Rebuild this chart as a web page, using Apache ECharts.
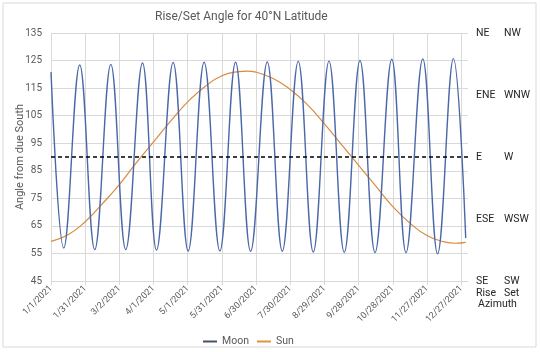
<!DOCTYPE html>
<html>
<head>
<meta charset="utf-8">
<script src="https://cdn.jsdelivr.net/npm/echarts@6/dist/echarts.min.js"></script>
<style>
  html, body { margin: 0; padding: 0; background: #fff; }
  #chart { width: 540px; height: 352px; }
</style>
</head>
<body>
<div id="chart"></div>
<script>
// days are counted from 1/1/2021
var moonDays   = [0, 11.2, 25.2, 38.4, 52.5, 65.6, 80.3, 92.6, 107.2, 120.4, 134.4, 148.2, 162, 175.2,
                  189.8, 203, 217, 230.2, 244, 257.4, 271.2, 284.4, 299.1, 311.6, 326.3, 339.3, 353.2, 364];
var moonAngles = [120.8, 57.0, 123.4, 56.4, 123.6, 56.4, 124.1, 56.2, 124.3, 55.9, 124.4, 55.9, 124.4, 55.8,
                  124.5, 55.8, 124.7, 55.5, 124.8, 55.4, 125.0, 55.3, 125.5, 55.3, 125.6, 54.9, 125.7, 60.6];

var sunDays   = [0, 15, 30, 45, 60, 75, 90, 105, 120, 135, 150, 165, 172, 180,
                 195, 210, 225, 240, 255, 270, 285, 300, 315, 330, 345, 355, 364];
var sunAngles = [59.4, 61.8, 66.5, 73, 80, 88, 95.5, 103, 110, 115.5, 119.5, 121, 121.2, 120.8,
                 118.5, 114.5, 109, 102, 94.5, 87, 79.5, 72, 66, 61.5, 59.2, 58.7, 59];

var riseLabels = ['SE', 'ESE', 'E', 'ENE', 'NE'];
var setLabels  = ['SW', 'WSW', 'W', 'WNW', 'NW'];
var dueEastWest = 90;

// y axis runs 45..135; plotted as offset from 45 so ticks start on a multiple of the interval
var yBase = 45;

function pairs(days, vals) {
    var out = [];
    for (var i = 0; i < days.length; i++) out.push([days[i], vals[i] - yBase]);
    return out;
}

function dayLabel(v) {
    if (v % 30 !== 0 || v > 360) return '';
    var d = new Date(2021, 0, 1 + v);
    return (d.getMonth() + 1) + '/' + d.getDate() + '/' + d.getFullYear();
}

var chart = echarts.init(document.getElementById('chart'));
var grey = '#595959';
var gridColor = '#d9d9d9';

var option = {
    backgroundColor: '#fff',
    textStyle: { fontFamily: 'Roboto' },
    animation: false,
    title: {
        text: 'Rise/Set Angle for 40°N Latitude',
        left: 150, top: 6,
        textStyle: { fontSize: 12, fontWeight: 'normal', color: grey }
    },
    legend: {
        data: ['Moon', 'Sun'],
        left: 198, top: 331,
        icon: 'rect', itemWidth: 14, itemHeight: 2, itemGap: 8,
        textStyle: { fontSize: 10.5, color: grey }
    },
    grid: { left: 51, right: 72, top: 33, bottom: 71 },
    xAxis: {
        type: 'value',
        min: 0, max: 366, interval: 30,
        axisLine: { show: true, lineStyle: { color: gridColor } },
        axisTick: { show: true, length: 4, lineStyle: { color: gridColor } },
        axisLabel: { rotate: 45, fontSize: 9, color: grey, margin: 6, formatter: dayLabel, showMaxLabel: false },
        splitLine: { show: true, showMaxLine: false, lineStyle: { color: gridColor } }
    },
    yAxis: [
        {
            type: 'value',
            min: 0, max: 90, interval: 10,
            name: 'Angle from due South',
            nameLocation: 'middle', nameGap: 25,
            nameMoveOverlap: false,
            nameTextStyle: { fontSize: 11, color: grey },
            axisLine: { show: false },
            axisTick: { show: false },
            axisLabel: { fontSize: 10, color: grey, margin: 9, formatter: function (v) { return v + yBase; } },
            splitLine: { lineStyle: { color: gridColor } }
        },
        {
            type: 'value',
            position: 'right',
            min: 0, max: 90, interval: 22.5,
            axisLine: { show: false },
            axisTick: { show: false },
            splitLine: { show: false },
            axisLabel: {
                margin: 8, fontSize: 10.5, color: '#262626', align: 'left',
                formatter: function (v) {
                    var i = Math.round(v / 22.5);
                    return '{a|' + riseLabels[i] + '}{b|' + setLabels[i] + '}';
                },
                rich: {
                    a: { width: 28, fontSize: 10.5, color: '#262626' },
                    b: { fontSize: 10.5, color: '#262626' }
                }
            }
        }
    ],
    graphic: [
        { type: 'rect', shape: { x: 3, y: 3, width: 533, height: 344 },
          style: { fill: 'none', stroke: gridColor, lineWidth: 1 }, silent: true },
        { type: 'text', left: 476, top: 288, style: { text: 'Rise', fontSize: 10.5, fill: '#262626', fontFamily: 'Roboto' } },
        { type: 'text', left: 504, top: 288, style: { text: 'Set', fontSize: 10.5, fill: '#262626', fontFamily: 'Roboto' } },
        { type: 'text', left: 478, top: 299, style: { text: 'Azimuth', fontSize: 10.5, fill: '#262626', fontFamily: 'Roboto' } }
    ],
    series: [
        {
            name: 'Moon',
            type: 'line',
            data: pairs(moonDays, moonAngles),
            smooth: 0.4,
            showSymbol: false,
            color: '#44546a',
            lineStyle: { color: '#4a67a8', width: 1.4 },
            z: 3,
            markLine: {
                silent: true,
                symbol: 'none',
                label: { show: false },
                lineStyle: { color: '#000', type: [4, 3], width: 1.5 },
                data: [{ yAxis: dueEastWest - yBase }]
            }
        },
        {
            name: 'Sun',
            type: 'line',
            data: pairs(sunDays, sunAngles),
            smooth: 0.5,
            showSymbol: false,
            color: '#e3913f',
            lineStyle: { color: '#d98a3e', width: 1.2 },
            z: 2
        }
    ]
};

chart.setOption(option);
</script>
</body>
</html>
